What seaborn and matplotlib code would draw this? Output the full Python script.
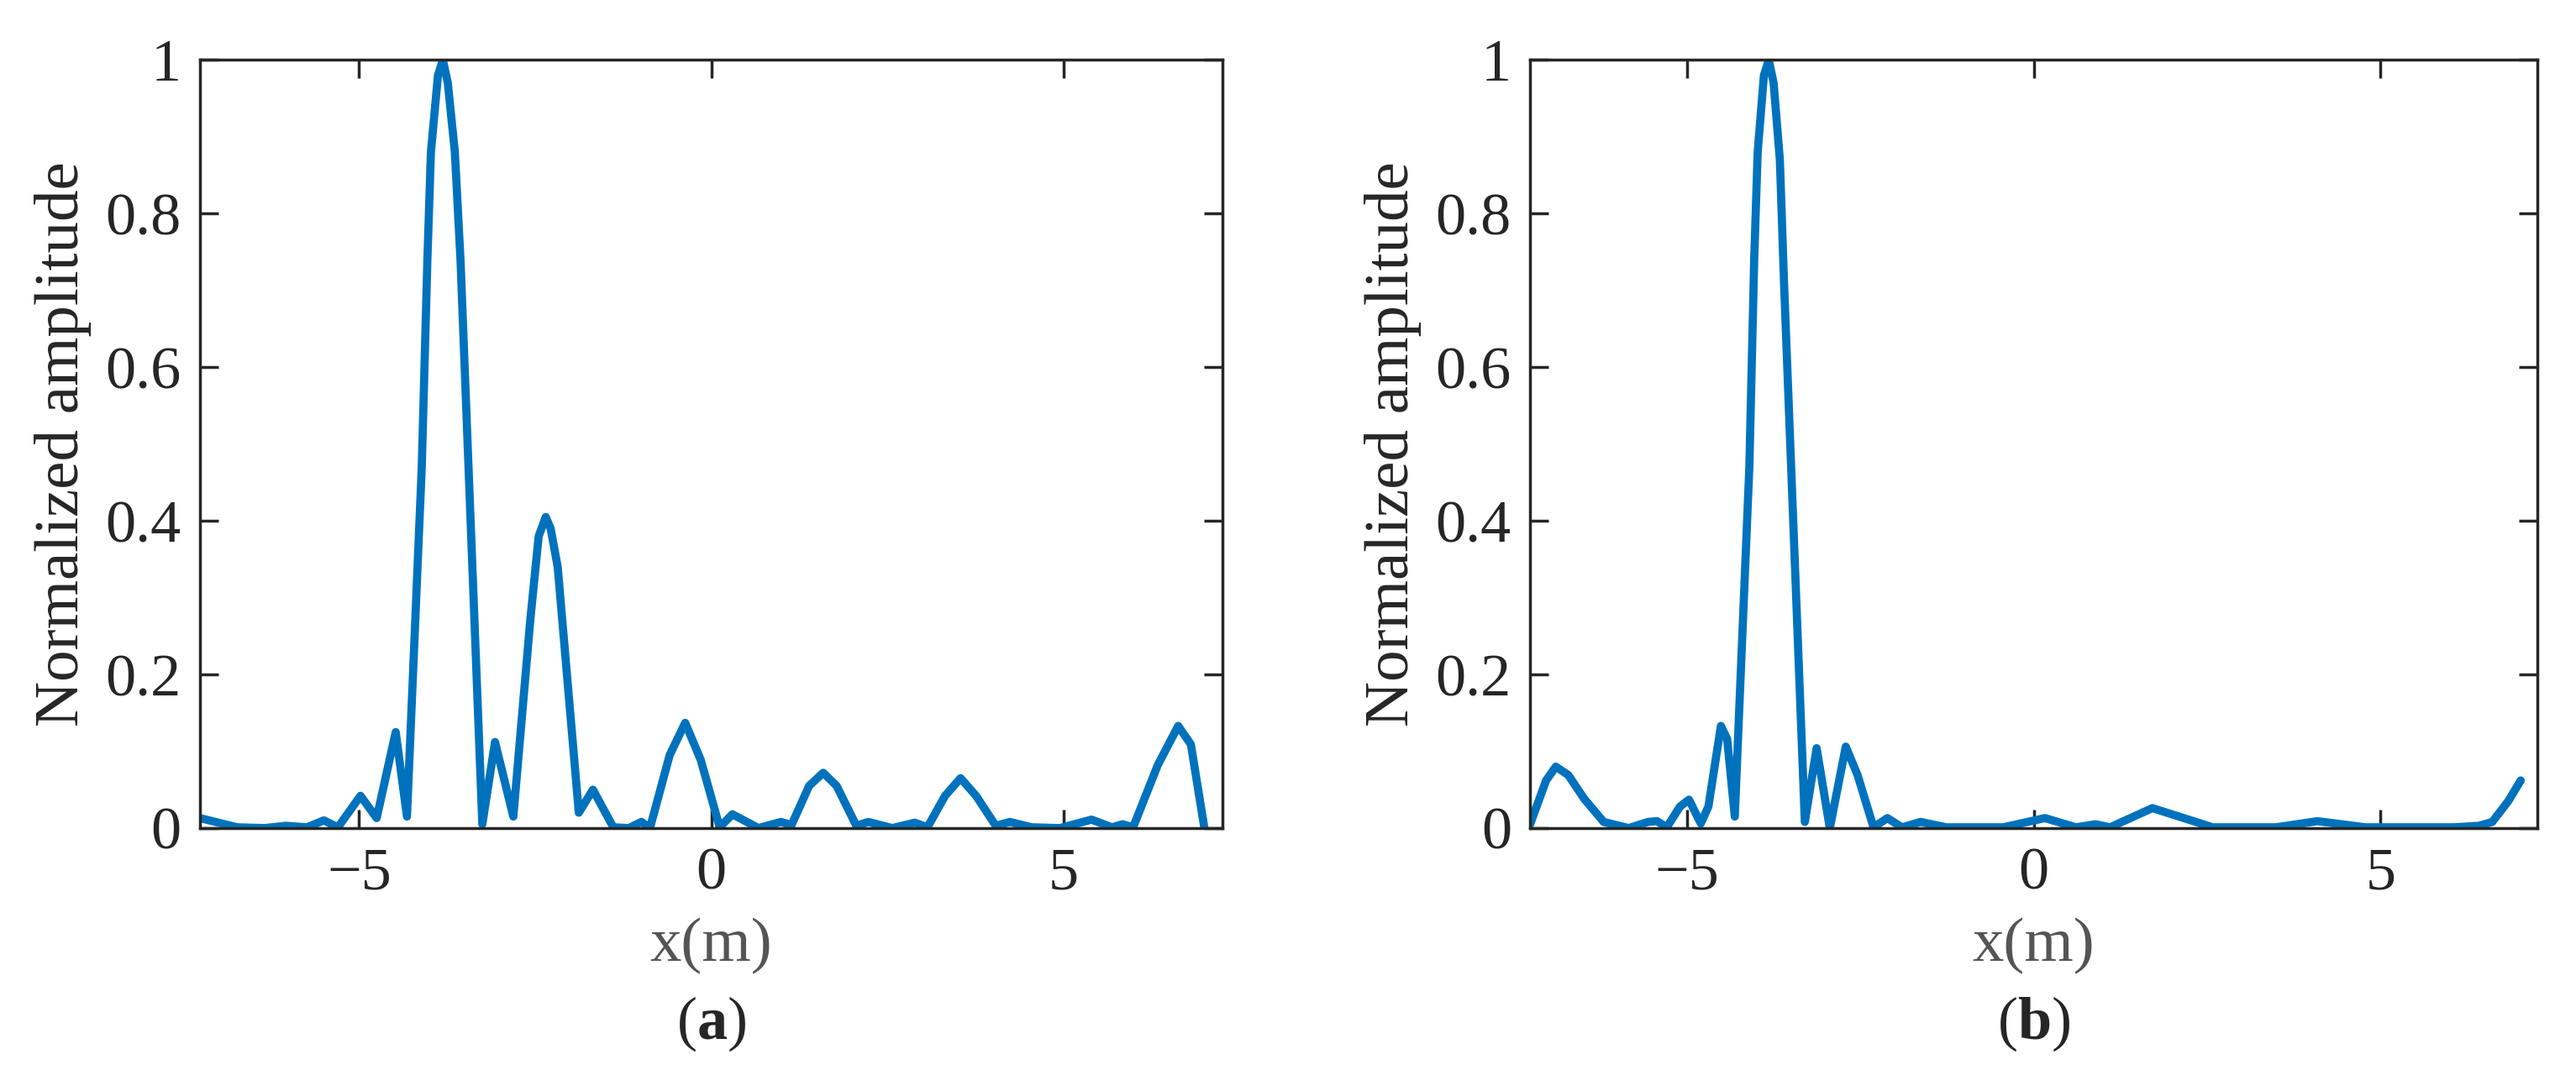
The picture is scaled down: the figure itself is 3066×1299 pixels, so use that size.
import numpy as np
import pandas as pd
import seaborn as sns
import matplotlib.pyplot as plt

# panel (a) values
xa = [-7.26, -6.73, -6.34, -6.04, -5.74, -5.5, -5.3, -4.98, -4.75, -4.48, -4.32, -4.11, -4.03, -3.98,
      -3.88, -3.81, -3.74, -3.64,
      -3.56, -3.25, -3.07, -2.81, -2.57, -2.45, -2.35, -2.28, -2.18, -1.88, -1.68, -1.39, -1.17, -0.99, -0.87,
      -0.59, -0.37, -0.15, 0.12, 0.3, 0.67, 0.99, 1.14, 1.39, 1.59, 1.78, 2.06, 2.23, 2.57,
      2.89, 3.07, 3.32, 3.54, 3.76, 4.04, 4.24, 4.55, 4.95, 5.4, 5.69, 5.84, 5.99, 6.34, 6.63,
      6.81, 7.0]
ya = [0.013, 0.001, 0.0, 0.003, 0.001, 0.01, 0.001, 0.042, 0.013, 0.125, 0.015, 0.47, 0.74, 0.88,
      0.98, 1.0, 0.97, 0.88,
      0.74, 0.005, 0.112, 0.015, 0.27, 0.38, 0.405, 0.39, 0.34, 0.02, 0.05, 0.001, 0.0, 0.008, 0.0,
      0.095, 0.137, 0.089, 0.001, 0.018, 0.0, 0.008, 0.004, 0.055, 0.072, 0.055, 0.003, 0.008, 0.0,
      0.007, 0.001, 0.042, 0.065, 0.042, 0.003, 0.008, 0.001, 0.0, 0.011, 0.001, 0.005, 0.001, 0.082, 0.133,
      0.109, 0.001]

# panel (b)
xb = [-7.26, -7.03, -6.89, -6.71, -6.48, -6.2, -5.84, -5.56, -5.43, -5.29, -5.1, -4.97, -4.8,
      -4.69, -4.51, -4.42, -4.31, -4.1, -4.03, -3.98, -3.89, -3.82, -3.75, -3.66, -3.6, -3.3, -3.13,
      -2.94, -2.71, -2.54, -2.31,
      -2.11, -1.9, -1.63, -1.26, -0.44, 0.16, 0.61, 0.89, 1.1, 1.71, 2.58, 3.49, 4.09, 4.78,
      6.06, 6.42, 6.61, 6.84, 7.02]
yb = [0.005, 0.062, 0.08, 0.069, 0.038, 0.008, 0.0, 0.008, 0.009, 0.001, 0.028, 0.037, 0.006,
      0.028, 0.133, 0.116, 0.015, 0.47, 0.74, 0.88, 0.98, 1.0, 0.97, 0.87, 0.71, 0.008, 0.104,
      0.0, 0.106, 0.069, 0.001,
      0.013, 0.001, 0.008, 0.001, 0.001, 0.013, 0.001, 0.005, 0.001, 0.026, 0.001, 0.001, 0.009, 0.001,
      0.001, 0.003, 0.008, 0.035, 0.062]

yticks = [0, 0.2, 0.4, 0.6, 0.8, 1]
ytick_labels = ['0', '0.2', '0.4', '0.6', '0.8', '1']
xticks = [-5, 0, 5]
xtick_labels = ['\u22125', '0', '5']

sns.set_theme(style="ticks")
plt.rcParams['font.family'] = ['Liberation Serif', 'DejaVu Serif']
plt.rcParams['mathtext.fontset'] = 'custom'
plt.rcParams['mathtext.bf'] = 'Liberation Serif:bold'
plt.rcParams['mathtext.rm'] = 'Liberation Serif'

fig = plt.figure(figsize=(30.66, 12.99), dpi=100)
axes = [fig.add_axes([0.0776, 0.241, 0.397, 0.704]),
        fig.add_axes([0.594, 0.241, 0.391, 0.704])]

for ax, x, y, tag in zip(axes, [xa, xb], [ya, yb], ['a', 'b']):
    df = pd.DataFrame({'x': x, 'y': y})
    sns.lineplot(data=df, x='x', y='y', ax=ax, color='#0072BD', linewidth=7, sort=False)
    ax.set_xlim(-7.26, 7.26)
    ax.set_ylim(0, 1)
    ax.set_xticks(xticks)
    ax.set_xticklabels(xtick_labels)
    ax.set_yticks(yticks)
    ax.set_yticklabels(ytick_labels)
    ax.tick_params(direction='in', length=16, width=2.5, labelsize=52, top=True, right=True,
                   pad=16, colors='#262626')
    for s in ax.spines.values():
        s.set_linewidth(2.5)
        s.set_color('#262626')
    ax.set_xlabel('x(m)', fontsize=54, color='#555555', labelpad=14)
    ax.set_ylabel('Normalized amplitude', fontsize=54, color='#262626', labelpad=12)
    ax.text(0.5, -0.255, r'($\mathbf{' + tag + '}$)', transform=ax.transAxes,
            ha='center', va='center', fontsize=52)

fig.savefig('out.png', dpi=100)
